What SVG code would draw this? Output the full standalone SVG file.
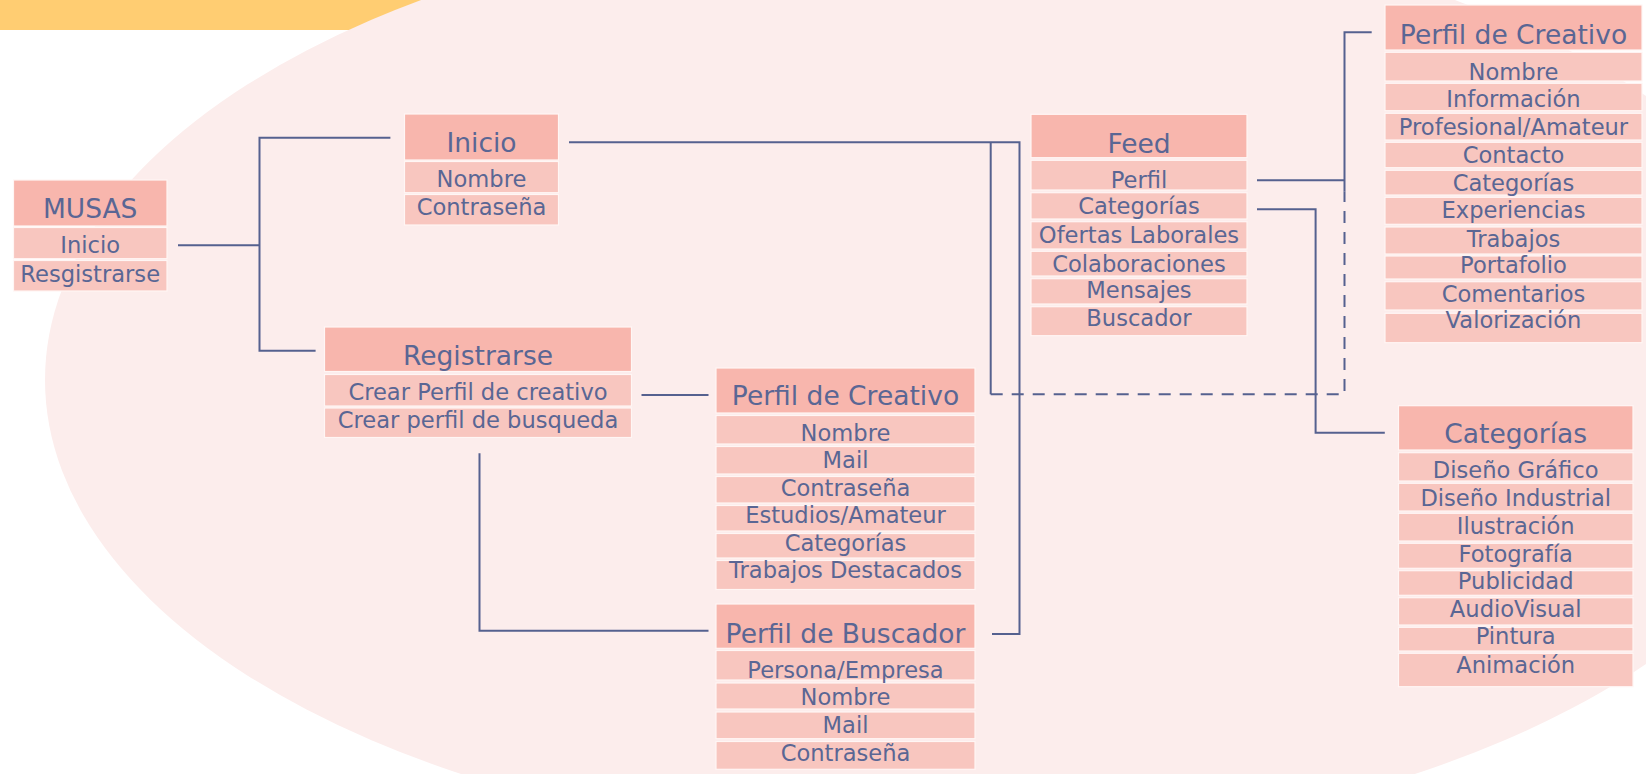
<svg xmlns="http://www.w3.org/2000/svg" width="1646" height="774" viewBox="0 0 1646 774">
<style>
.hd{fill:#F8B6AD;stroke:#FFF6F4;stroke-width:1.2}
.rw{fill:#F8C6BF;stroke:#FFF6F4;stroke-width:1.2}
.th{font-family:"DejaVu Sans",sans-serif;font-size:26.5px;fill:#5A6694;text-anchor:middle}
.tr{font-family:"DejaVu Sans",sans-serif;font-size:22.6px;fill:#5A6694;text-anchor:middle}
.ln{fill:none;stroke:#55618F;stroke-width:2}
.dl{fill:none;stroke:#55618F;stroke-width:2;stroke-dasharray:12 9}
</style>
<rect x="0" y="0" width="1646" height="774" fill="#FFFFFF"/>
<rect x="0" y="0" width="520" height="30" fill="#FFCD72"/>
<ellipse cx="938" cy="380" rx="893" ry="466" fill="#FCEDEC"/>

<g id="connectors">
<path class="ln" d="M178 245.3 H259.5"/>
<path class="ln" d="M390.4 137.7 H259.5 V350.7 H315.6"/>
<path class="ln" d="M569 142.3 H1019.5 V634 H992"/>
<path class="ln" d="M990.7 142.3 V394.3"/>
<path class="dl" d="M990.7 394.3 H1344.5 V191.7"/>
<path class="ln" d="M641.5 395 H708.5"/>
<path class="ln" d="M479.5 453.3 V630.7 H708.5"/>
<path class="ln" d="M1257 180.3 H1344.5"/>
<path class="ln" d="M1344.5 191.7 V32.3 H1371.7"/>
<path class="ln" d="M1257 209.3 H1315.6 V432.7 H1384.8"/>
</g>

<g id="musas">
<rect class="hd" x="13.5" y="180" width="153.5" height="46"/>
<rect class="rw" x="13.5" y="227.5" width="153.5" height="31.2"/>
<rect class="rw" x="13.5" y="260.5" width="153.5" height="30.5"/>
<text class="th" x="90.2" y="218">MUSAS</text>
<text class="tr" x="90.2" y="253">Inicio</text>
<text class="tr" x="90.2" y="282">Resgistrarse</text>
</g>

<g id="inicio">
<rect class="hd" x="404.5" y="114" width="154" height="46"/>
<rect class="rw" x="404.5" y="161.5" width="154" height="31.2"/>
<rect class="rw" x="404.5" y="194.5" width="154" height="30.5"/>
<text class="th" x="481.5" y="151.7">Inicio</text>
<text class="tr" x="481.5" y="187">Nombre</text>
<text class="tr" x="481.5" y="215">Contraseña</text>
</g>

<g id="registrarse">
<rect class="hd" x="324.5" y="327" width="307" height="44.5"/>
<rect class="rw" x="324.5" y="374.5" width="307" height="31.5"/>
<rect class="rw" x="324.5" y="408" width="307" height="29.5"/>
<text class="th" x="478" y="365">Registrarse</text>
<text class="tr" x="478" y="400">Crear Perfil de creativo</text>
<text class="tr" x="478" y="428">Crear perfil de busqueda</text>
</g>

<g id="perfil-creativo-reg">
<rect class="hd" x="716" y="368" width="259" height="45"/>
<rect class="rw" x="716" y="415.5" width="259" height="28.5"/>
<rect class="rw" x="716" y="446.5" width="259" height="27.5"/>
<rect class="rw" x="716" y="476.5" width="259" height="26.5"/>
<rect class="rw" x="716" y="505.5" width="259" height="25.5"/>
<rect class="rw" x="716" y="533.5" width="259" height="24.5"/>
<rect class="rw" x="716" y="560.5" width="259" height="29"/>
<text class="th" x="845.5" y="405">Perfil de Creativo</text>
<text class="tr" x="845.5" y="440.5">Nombre</text>
<text class="tr" x="845.5" y="468.3">Mail</text>
<text class="tr" x="845.5" y="496">Contraseña</text>
<text class="tr" x="845.5" y="523.3">Estudios/Amateur</text>
<text class="tr" x="845.5" y="550.7">Categorías</text>
<text class="tr" x="845.5" y="578.3">Trabajos Destacados</text>
</g>

<g id="perfil-buscador">
<rect class="hd" x="716" y="604" width="259" height="44.3"/>
<rect class="rw" x="716" y="650.5" width="259" height="29.5"/>
<rect class="rw" x="716" y="683" width="259" height="26"/>
<rect class="rw" x="716" y="712" width="259" height="26.7"/>
<rect class="rw" x="716" y="741.5" width="259" height="27.8"/>
<text class="th" x="845.5" y="642.7">Perfil de Buscador</text>
<text class="tr" x="845.5" y="677.7">Persona/Empresa</text>
<text class="tr" x="845.5" y="705">Nombre</text>
<text class="tr" x="845.5" y="732.7">Mail</text>
<text class="tr" x="845.5" y="760.7">Contraseña</text>
</g>

<g id="feed">
<rect class="hd" x="1031" y="114.3" width="216" height="43.4"/>
<rect class="rw" x="1031" y="160.3" width="216" height="29.7"/>
<rect class="rw" x="1031" y="192.7" width="216" height="26.3"/>
<rect class="rw" x="1031" y="221.7" width="216" height="27.3"/>
<rect class="rw" x="1031" y="251.3" width="216" height="24.7"/>
<rect class="rw" x="1031" y="278.7" width="216" height="25.3"/>
<rect class="rw" x="1031" y="306.7" width="216" height="29"/>
<text class="th" x="1139" y="152.7">Feed</text>
<text class="tr" x="1139" y="188.3">Perfil</text>
<text class="tr" x="1139" y="214.3">Categorías</text>
<text class="tr" x="1139" y="243.3">Ofertas Laborales</text>
<text class="tr" x="1139" y="271.7">Colaboraciones</text>
<text class="tr" x="1139" y="297.7">Mensajes</text>
<text class="tr" x="1139" y="326">Buscador</text>
</g>

<g id="perfil-creativo-feed">
<rect class="hd" x="1385" y="5" width="257" height="45"/>
<rect class="rw" x="1385" y="52.3" width="257" height="28.7"/>
<rect class="rw" x="1385" y="83.3" width="257" height="27.4"/>
<rect class="rw" x="1385" y="113.3" width="257" height="26.7"/>
<rect class="rw" x="1385" y="142.3" width="257" height="25.4"/>
<rect class="rw" x="1385" y="170.3" width="257" height="24.7"/>
<rect class="rw" x="1385" y="197.3" width="257" height="27"/>
<rect class="rw" x="1385" y="227" width="257" height="27"/>
<rect class="rw" x="1385" y="256" width="257" height="23"/>
<rect class="rw" x="1385" y="281.7" width="257" height="28.3"/>
<rect class="rw" x="1385" y="313.3" width="257" height="29.4"/>
<text class="th" x="1513.5" y="44.3">Perfil de Creativo</text>
<text class="tr" x="1513.5" y="80">Nombre</text>
<text class="tr" x="1513.5" y="107.3">Información</text>
<text class="tr" x="1513.5" y="135">Profesional/Amateur</text>
<text class="tr" x="1513.5" y="163.3">Contacto</text>
<text class="tr" x="1513.5" y="190.7">Categorías</text>
<text class="tr" x="1513.5" y="218.3">Experiencias</text>
<text class="tr" x="1513.5" y="246.7">Trabajos</text>
<text class="tr" x="1513.5" y="273.3">Portafolio</text>
<text class="tr" x="1513.5" y="301.7">Comentarios</text>
<text class="tr" x="1513.5" y="328.3">Valorización</text>
</g>

<g id="categorias">
<rect class="hd" x="1398.5" y="405.7" width="234.5" height="44.3"/>
<rect class="rw" x="1398.5" y="452.7" width="234.5" height="28.3"/>
<rect class="rw" x="1398.5" y="483.3" width="234.5" height="27.7"/>
<rect class="rw" x="1398.5" y="513.3" width="234.5" height="27.7"/>
<rect class="rw" x="1398.5" y="543.3" width="234.5" height="25"/>
<rect class="rw" x="1398.5" y="570.7" width="234.5" height="24.6"/>
<rect class="rw" x="1398.5" y="597.7" width="234.5" height="27.3"/>
<rect class="rw" x="1398.5" y="627.3" width="234.5" height="23.7"/>
<rect class="rw" x="1398.5" y="653.3" width="234.5" height="33.4"/>
<text class="th" x="1515.7" y="442.7">Categorías</text>
<text class="tr" x="1515.7" y="478.3">Diseño Gráfico</text>
<text class="tr" x="1515.7" y="506">Diseño Industrial</text>
<text class="tr" x="1515.7" y="534">Ilustración</text>
<text class="tr" x="1515.7" y="561.7">Fotografía</text>
<text class="tr" x="1515.7" y="589.3">Publicidad</text>
<text class="tr" x="1515.7" y="617.3">AudioVisual</text>
<text class="tr" x="1515.7" y="644.3">Pintura</text>
<text class="tr" x="1515.7" y="672.7">Animación</text>
</g>
</svg>
